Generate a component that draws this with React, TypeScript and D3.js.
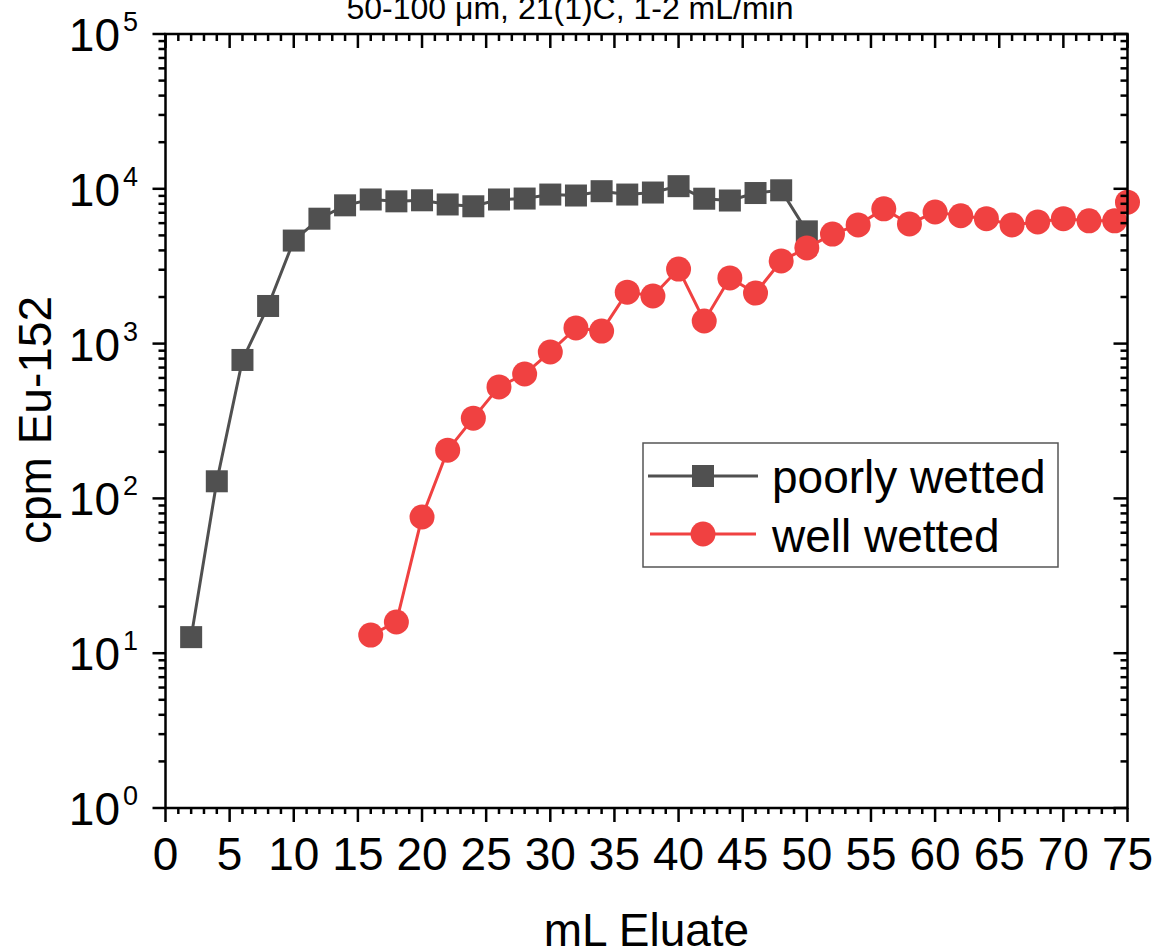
import React from "react";
import * as d3 from "d3";

// Eluted volume (mL) for each fraction
const poorlyX = [2, 4, 6, 8, 10, 12, 14, 16, 18, 20, 22, 24, 26, 28, 30, 32, 34, 36, 38, 40, 42, 44, 46, 48, 50];
// Eu-152 activity (cpm), poorly wetted resin
const poorlyY = [12.7, 129, 784, 1750, 4630, 6410, 7820, 8530, 8300, 8430, 7920, 7710, 8530, 8650, 9180, 9050, 9650, 9180, 9460, 10400, 8630, 8400, 9390, 9780, 5310];

const wellX = [16, 18, 20, 22, 24, 26, 28, 30, 32, 34, 36, 38, 40, 42, 44, 46, 48, 50, 52, 54, 56, 58, 60, 62, 64, 66, 68, 70, 72, 74, 75];
// Eu-152 activity (cpm), well wetted resin
const wellY = [13.1, 15.9, 75.8, 205, 330, 525, 636, 883, 1262, 1205, 2150, 2030, 3030, 1400, 2655, 2120, 3420, 4150, 5100, 5840, 7420, 5930, 7080, 6700, 6410, 5840, 6110, 6410, 6210, 6210, 8200];

const xTicks = [0, 5, 10, 15, 20, 25, 30, 35, 40, 45, 50, 55, 60, 65, 70, 75];
const yExponents = [0, 1, 2, 3, 4, 5];

const seriesNames = ["poorly wetted", "well wetted"];
const titleText = "50-100 \u03bcm, 21(1)C, 1-2 mL/min";
const xTitle = "mL Eluate";
const yTitle = "cpm Eu-152";

const W = 1157;
const H = 951;
const left = 165.5;
const right = 1127.5;
const top = 34;
const bottom = 808;

const GRAY = "#505050";
const RED = "#F04141";
const FONT = "'Liberation Sans', Arial, sans-serif";

export default function App() {
  const x = d3.scaleLinear().domain([0, 75]).range([left, right]);
  const y = d3.scaleLog().domain([1, 1e5]).range([bottom, top]);

  const line = d3
    .line<[number, number]>()
    .x((d) => x(d[0]))
    .y((d) => y(d[1]));

  const poorly: [number, number][] = poorlyX.map((v, i) => [v, poorlyY[i]]);
  const well: [number, number][] = wellX.map((v, i) => [v, wellY[i]]);

  const xMinor = d3.range(0, 76, 1).filter((v) => v % 5 !== 0);
  const yMinor: number[] = [];
  for (let e = 0; e < 5; e++) {
    for (let m = 2; m <= 9; m++) yMinor.push(m * Math.pow(10, e));
  }

  const sq = 22;
  const r = 12.5;
  const axisW = 2.5;

  return (
    <div style={{ position: "absolute", left: 0, top: 0 }}>
      <svg width={W} height={H} style={{ display: "block", background: "#fff" }} fontFamily={FONT}>
        <text x={570} y={19} fontSize={32} textAnchor="middle" fill="#000">
          {titleText}
        </text>

        {/* series: lines then markers */}
        <path d={line(poorly) ?? ""} fill="none" stroke={GRAY} strokeWidth={3} />
        {poorly.map((d, i) => (
          <rect key={"p" + i} x={x(d[0]) - sq / 2} y={y(d[1]) - sq / 2} width={sq} height={sq} fill={GRAY} />
        ))}
        <path d={line(well) ?? ""} fill="none" stroke={RED} strokeWidth={3} />
        {well.map((d, i) => (
          <circle key={"w" + i} cx={x(d[0])} cy={y(d[1])} r={r} fill={RED} />
        ))}

        {/* frame */}
        <rect x={left} y={top} width={right - left} height={bottom - top} fill="none" stroke="#000" strokeWidth={axisW} />

        {/* bottom axis (outward ticks) and top axis (inward ticks) */}
        {xTicks.map((t) => (
          <g key={"xt" + t}>
            <line x1={x(t)} x2={x(t)} y1={bottom} y2={bottom + 14} stroke="#000" strokeWidth={axisW} />
            <line x1={x(t)} x2={x(t)} y1={top} y2={top + 14} stroke="#000" strokeWidth={axisW} />
            <text x={x(t)} y={870} fontSize={46} textAnchor="middle" fill="#000">
              {t}
            </text>
          </g>
        ))}
        {xMinor.map((t) => (
          <g key={"xm" + t}>
            <line x1={x(t)} x2={x(t)} y1={bottom} y2={bottom + 6} stroke="#000" strokeWidth={axisW} />
            <line x1={x(t)} x2={x(t)} y1={top} y2={top + 7} stroke="#000" strokeWidth={axisW} />
          </g>
        ))}

        {/* left axis (outward ticks) and right axis (inward ticks) */}
        {yExponents.map((e) => {
          const py = y(Math.pow(10, e));
          return (
            <g key={"yt" + e}>
              <line x1={left - 13} x2={left} y1={py} y2={py} stroke="#000" strokeWidth={axisW} />
              <line x1={right - 14} x2={right} y1={py} y2={py} stroke="#000" strokeWidth={axisW} />
              <text x={120} y={py + 17} fontSize={46} textAnchor="end" fill="#000">
                10
              </text>
              <text x={123} y={py - 3} fontSize={27} textAnchor="start" fill="#000">
                {e}
              </text>
            </g>
          );
        })}
        {yMinor.map((v, i) => {
          const py = y(v);
          return (
            <g key={"ym" + i}>
              <line x1={left - 7} x2={left} y1={py} y2={py} stroke="#000" strokeWidth={axisW} />
              <line x1={right - 7} x2={right} y1={py} y2={py} stroke="#000" strokeWidth={axisW} />
            </g>
          );
        })}

        {/* axis titles */}
        <text x={(left + right) / 2} y={946} fontSize={46} textAnchor="middle" fill="#000">
          {xTitle}
        </text>
        <text
          transform={`translate(51, 420) rotate(-90)`}
          fontSize={46}
          textAnchor="middle"
          fill="#000"
        >
          {yTitle}
        </text>

        {/* legend */}
        <g>
          <rect x={643} y={443} width={415} height={124} fill="#fff" stroke="#555" strokeWidth={1.5} />
          <line x1={648} x2={758} y1={476} y2={476} stroke={GRAY} strokeWidth={3} />
          <rect x={703 - sq / 2} y={476 - sq / 2} width={sq} height={sq} fill={GRAY} />
          <text x={772} y={493} fontSize={46} fill="#000">
            {seriesNames[0]}
          </text>
          <line x1={650} x2={756} y1={534} y2={534} stroke={RED} strokeWidth={3} />
          <circle cx={703} cy={534} r={r} fill={RED} />
          <text x={772} y={552} fontSize={46} fill="#000">
            {seriesNames[1]}
          </text>
        </g>
      </svg>
    </div>
  );
}
